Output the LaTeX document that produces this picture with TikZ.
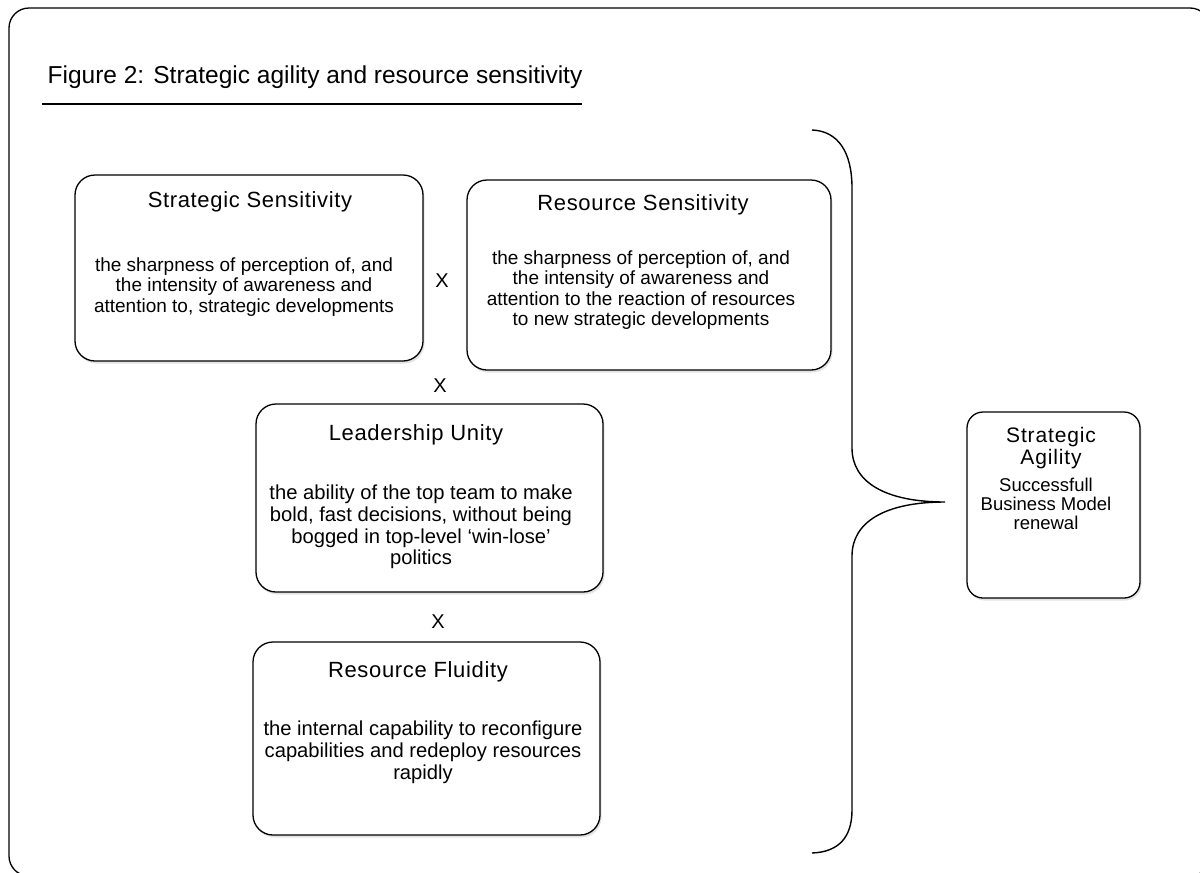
\documentclass[tikz,border=0pt]{standalone}
\usepackage{fontspec}
\setmainfont{Liberation Sans}
\usetikzlibrary{shadows}
\begin{document}
\begin{tikzpicture}[x=1pt,y=-1pt,
  line width=1.3pt,
  softshadow/.style={drop shadow={opacity=0.22,shadow xshift=1.5pt,shadow yshift=-2.5pt}},
  card/.style={draw=black,fill=white,rounded corners=20pt,softshadow},
  headtxt/.style={font=\fontsize{22}{26}\selectfont\addfontfeatures{LetterSpace=3}\relax,align=center,inner sep=0pt},
  bodytxt/.style={font=\fontsize{19}{20.5}\selectfont,align=center,inner sep=0pt},
  bodybig/.style={font=\fontsize{20.2}{21.8}\selectfont,align=center,inner sep=0pt},
  times/.style={font=\fontsize{20}{22}\selectfont,inner sep=0pt}]
\useasboundingbox (0,0) rectangle (1200,873);
\clip (0,0) rectangle (1200,873);
\fill[white] (0,0) rectangle (1200,873);
% outer frame
\draw[card] (9,8) rectangle (1210,876);
% title
\node[anchor=base west,inner sep=0pt,font=\fontsize{24.5}{28}\selectfont] (title) at (47,83) {Figure 2: Strategic agility and resource sensitivity};
\draw[softshadow] (42,104) -- (582,104);
% boxes
\draw[card] (75,175) rectangle (423,361);
\node[headtxt] (h1) at (250,202) {Strategic Sensitivity};
\node[bodytxt] (b1) at (244,287) {the sharpness of perception of, and\\the intensity of awareness and\\attention to, strategic developments};

\draw[card] (467,180) rectangle (831,370);
\node[headtxt] (h2) at (643,205) {Resource Sensitivity};
\node[bodytxt] (b2) at (641,290) {the sharpness of perception of, and\\the intensity of awareness and\\attention to the reaction of resources\\to new strategic developments};

\draw[card] (256,404) rectangle (603,592);
\node[headtxt] (h3) at (416,435) {Leadership Unity};
\node[bodybig] (b3) at (421,527) {the ability of the top team to make\\bold, fast decisions, without being\\bogged in top-level ‘win-lose’\\politics};

\draw[card] (253,642) rectangle (600,835);
\node[headtxt] (h4) at (418,672) {Resource Fluidity};
\node[bodybig] (b4) at (423,752) {the internal capability to reconfigure\\capabilities and redeploy resources\\rapidly};

\draw[card,rounded corners=16pt] (967,412) rectangle (1140,598);
\node[headtxt,font=\fontsize{21}{22}\selectfont\addfontfeatures{LetterSpace=4}\relax] (h5) at (1051,448) {Strategic\\Agility};
\node[bodytxt,font=\fontsize{18.5}{19}\selectfont] (b5) at (1046,504) {Successfull\\Business Model\\renewal};

% multiplication signs
\node[times] (x1) at (442,281) {X};
\node[times] (x2) at (440,386) {X};
\node[times] (x3) at (438,622) {X};

% brace
\coordinate (btop) at (812,130);
\coordinate (btip) at (945,502);
\coordinate (bbot) at (812,853);
\draw[line width=1.4pt] (btop) .. controls (838,131) and (852,152) .. (852,188)
  -- (852,448) .. controls (852,482) and (885,502) .. (btip)
  .. controls (885,502) and (852,522) .. (852,556)
  -- (852,810) .. controls (852,838) and (838,852) .. (bbot);
\end{tikzpicture}
\end{document}
